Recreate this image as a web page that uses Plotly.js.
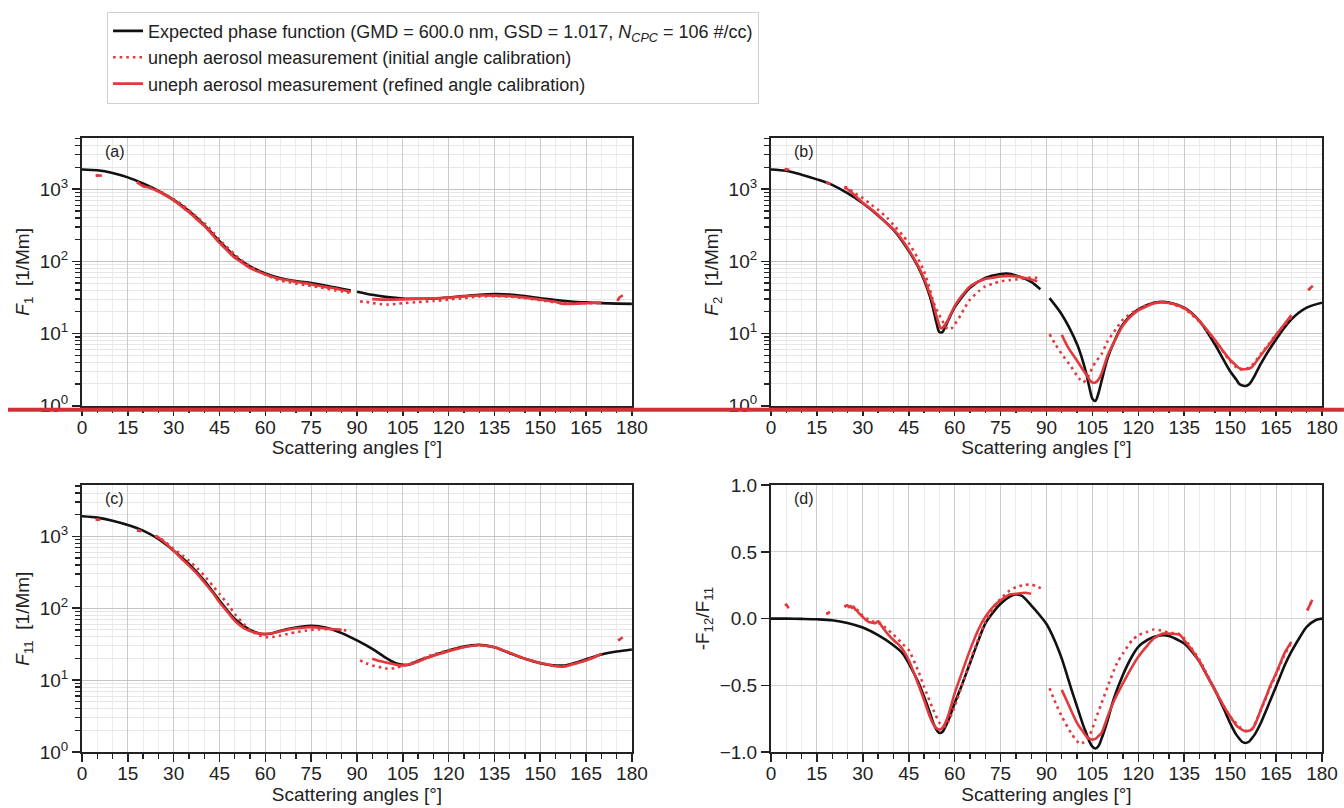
<!DOCTYPE html>
<html>
<head>
<meta charset="utf-8">
<script src="https://cdn.plot.ly/plotly-3.0.1.min.js"></script>
<style>html,body{margin:0;padding:0;background:#fff;}#chart{width:1344px;height:808px;}</style>
</head>
<body>
<div id="chart"></div>
<script>
// ---------------- DATA ----------------
// Panel (a): F1 [1/Mm]
const a_exp_x = [0,5,10,15,20,25,30,35,40,45,50,55,60,65,70,75,80,85,88,89,90,95,100,105,110,115,120,125,130,135,140,145,150,155,160,165,170,175,180];
const a_exp_y = [1880,1830,1680,1460,1200,950,711,500,321,190,118,85,68,58.5,53.5,50,46,41.7,39.5,null,38,34.4,32,30.6,30.3,30.6,31.6,33,34.4,35.2,34.8,33,30.9,29.2,27.8,27,26.4,26,25.8];
const a_ref_x = [4.5,5.5,6.5,12, 18,20,22,25,28,30,33,35,38,40,43,45,48,50,53,55,58,60,63,65,68,70,73,75,78,80,83,85,88,91, 95,100,105,110,115,120,125,130,135,140,145,150,155,157,160,165,170,173, 175.3,176,177];
const a_ref_y = [1540,1550,1545,null, 1250,1100,1050,930,790,700,560,480,370,310,225,180,135,112,92,81,71,66,60,57,54,52,50,48,45.5,44,42,40,38,null, 30,29.5,29.8,30.2,30.8,31.5,32.8,33.6,33.5,33,31.5,29.5,27.5,26,25.8,26.3,26.8,null, 28.5,32,33.5];
const a_ini_x = [4.5,5.5,6.5,12, 18,20,22,25,28,30,33,35,38,40,43,45,48,50,53,55,58,60,63,65,68,70,73,75,78,80,83,85,88,90, 91,93,95,98,100,103,105,110,115,120,125,130,135,140,145,150,155,160,165,170,173, 175.3,176,177];
const a_ini_y = [1550,1560,1550,null, 1260,1120,1060,960,820,730,600,515,400,340,250,200,150,124,98,86,73,66,58,54,51,49,47,45.5,43.5,42,39.5,38.3,36.5,null, 27.8,27.5,26.5,25.5,25.2,25.8,26.4,27.3,28.2,29.5,31,32.5,33,32.5,31,29,27,26,26.3,26.5,null, 28.5,32,33.5];

// Panel (b): F2 [1/Mm]
const b_exp_x = [0,5,10,15,20,25,30,35,40,45,48,50,52,53,54,55,56,57,58,60,62,65,70,75,77,80,85,88,89.5,91,95,100,102,103,104,105,106,107,108,110,112,115,120,125,128,130,135,140,145,148,150,152,153,154,155,156,157,158,160,165,170,175,180];
const b_exp_y = [1880,1800,1590,1370,1150,880,640,433,275,140,85,55,32,22,14.5,10.5,10.5,12.5,15.5,23,30.5,43,59,67,68,64,52,41,null,31,18.4,7.1,4,2.8,1.8,1.25,1.17,1.5,2.2,4.6,7.5,13.4,21.6,26.7,27.6,27,22.8,14.9,7.1,4.2,3,2.3,2.0,1.9,1.88,1.95,2.2,2.6,3.8,8.3,15.7,22.8,26.7];
const b_ref_x = [4.5,6,12, 18,19.5,22, 24,25,27,30,33,35,38,40,43,45,48,50,52,53,54,55,55.5,56,57,58,60,62,65,68,70,73,75,78,80,83,85,87,91, 95,97,100,102,103,104,105,106,107,108,110,112,115,118,120,125,128,130,133,135,138,140,143,145,148,150,152,153,155,157,158,160,163,165,168,170,173, 175.5,177];
const b_ref_y = [1900,1860,null, 1250,1180,null, 1060,1000,850,650,520,440,330,280,195,145,88,58,35,26,18,13,11.8,12,13.5,16,24,32,45,53,57,60,62,63,62,59,56,53,null, 9.6,6.5,4.2,3.1,2.7,2.3,2.1,2.1,2.3,2.8,5,7.5,13,18,21,26,27,26.5,24.5,22.5,18,15,10.5,8.2,5.5,4.3,3.6,3.3,3.2,3.4,3.8,5,7.3,9.5,14,18,null, 40,46];
const b_ini_x = [4.5,6,12, 18,19.5,22, 24,25,27,30,33,35,38,40,43,45,48,50,52,53,54,55,56,57,58,59,60,62,63,65,68,70,73,75,78,80,83,85,87,88,90, 91,93,95,98,100,101,102,103,104,105,106,108,110,113,115,118,120,125,128,130,135,140,145,148,150,153,155,157,160,163,165,168,170,173, 175.5,177];
const b_ini_y = [1900,1860,null, 1250,1180,null, 1080,1050,900,752,600,519,400,322,230,180,110,73,40,28,22,18,15,12.5,11.4,11.8,13.4,18,21.6,29.5,39,45,50,53,55,56,58,60,59,58,null, 9.8,7,5.2,3.5,2.6,2.3,2.1,2.3,2.7,3.4,4,5.2,7.9,12,15.7,19.5,22,26.5,27,26.5,22,14.5,8,5.4,4.1,3.2,3.2,3.6,5.2,7.5,9.7,13.5,17,null, 40,46];

// Panel (c): F11 [1/Mm]
const c_exp_x = [0,5,10,15,20,25,30,35,40,45,50,55,58,60,62,65,70,75,80,85,90,95,100,103,105,107,110,115,120,125,130,135,140,145,150,155,158,160,165,170,175,180];
const c_exp_y = [1900,1820,1650,1437,1199,918,632,413,242,128,71,50,44.5,43.5,44.5,48.5,54,57,53.5,45,35.6,27.2,19.8,17,16.3,16.4,18.5,22,25.8,29.3,31,28.7,23.7,19.8,17.2,16,16,16.7,19.5,22.7,25,26.7];
const c_ref_x = [4.5,6,12, 18,19.5,22, 24,25,27,30,33,35,38,40,43,45,48,50,53,55,58,60,63,65,68,70,73,75,78,80,83,85,90, 95,97,100,103,105,107,110,113,115,120,125,130,135,140,145,150,155,158,160,165,168,170,173, 175.5,177];
const c_ref_y = [1720,1700,null, 1220,1180,null, 1021,960,830,632,470,391,290,230,160,121,85,67,53,48,44.5,44,45.5,48,51,52.5,54,54.5,53.5,52,51,50,null, 19.8,18.6,17.4,16.3,16,16.5,18,20.5,21.8,25.3,28.7,30.6,28.7,24,19.8,17.4,15.6,15.5,16.3,18.8,21,23.3,null, 35.6,39.5];
const c_ini_x = [4.5,6,12, 18,19.5,22, 24,25,27,30,33,35,38,40,43,45,48,50,53,55,57,58,60,63,65,68,70,73,75,78,80,83,85,88,90, 91,93,95,98,100,103,105,107,110,115,120,125,130,135,140,145,150,155,158,160,165,170,173, 175.5,177];
const c_ini_y = [1720,1700,null, 1220,1180,null, 1000,970,850,667,540,459,350,284,200,158,110,83,60,49,44,41.7,39.5,40,41.7,44.5,46.4,48.5,50,51,51,50.5,50,48,null, 18.8,17.2,16,15,14.4,14.8,16,16.8,18.8,22.7,26,29,30.5,28.5,23.8,19.8,17.2,15.8,15.6,16.3,19,23,null, 35.6,39.5];

// Panel (d): -F12/F11
const d_exp_x = [0,5,10,15,20,25,30,35,40,43,45,48,50,52,53,54,55,56,57,58,60,62,65,68,70,73,75,78,80,82,85,88,90,93,95,98,100,102,103,104,105,106,107,108,110,112,115,118,120,123,125,128,130,133,135,138,140,143,145,148,150,152,153,154,155,156,157,158,160,163,165,168,170,173,175,178,180];
const d_exp_y = [0,0,-0.002,-0.005,-0.012,-0.032,-0.067,-0.124,-0.199,-0.26,-0.335,-0.47,-0.584,-0.71,-0.78,-0.83,-0.857,-0.85,-0.81,-0.76,-0.634,-0.52,-0.335,-0.15,-0.037,0.06,0.112,0.165,0.181,0.17,0.1,0.02,-0.04,-0.18,-0.3,-0.52,-0.66,-0.8,-0.86,-0.92,-0.96,-0.974,-0.955,-0.9,-0.76,-0.6,-0.42,-0.28,-0.211,-0.16,-0.137,-0.124,-0.13,-0.16,-0.186,-0.26,-0.323,-0.45,-0.534,-0.68,-0.783,-0.87,-0.9,-0.925,-0.932,-0.925,-0.9,-0.87,-0.783,-0.62,-0.509,-0.34,-0.248,-0.13,-0.062,-0.01,0];
const d_ref_x = [4.7,5.3,5.8,12, 18.1,18.7,19.3,22, 24,24.5,25,25.5,26,26.5,27,27.5,28,29,30,31,32,33,34,35,35.5,36,38,40,42,43,45,48,50,52,53,54,55,56,57,58,60,62,65,68,70,73,75,78,80,83,85,90, 95,97,100,102,103,104,105,106,107,108,110,112,115,118,120,123,125,128,130,132,133,134,135,138,140,143,145,148,150,152,153,155,157,158,160,162,163,165,168,170,173, 175.2,176,176.8];
const d_ref_y = [0.11,0.095,0.078,null, 0.035,0.042,0.05,null, 0.087,0.095,0.1,0.085,0.095,0.08,0.09,0.07,0.06,0.035,0.012,-0.01,-0.025,-0.03,-0.035,-0.02,-0.03,-0.05,-0.11,-0.16,-0.2,-0.23,-0.31,-0.485,-0.609,-0.74,-0.79,-0.82,-0.832,-0.82,-0.78,-0.72,-0.56,-0.43,-0.236,-0.07,0.012,0.1,0.137,0.181,0.186,0.194,0.186,null, -0.534,-0.634,-0.783,-0.85,-0.882,-0.9,-0.907,-0.902,-0.88,-0.857,-0.733,-0.62,-0.484,-0.36,-0.286,-0.2,-0.149,-0.112,-0.112,-0.115,-0.117,-0.13,-0.161,-0.25,-0.323,-0.45,-0.534,-0.66,-0.733,-0.8,-0.82,-0.845,-0.832,-0.8,-0.683,-0.57,-0.509,-0.41,-0.248,-0.174,null, 0.062,0.1,0.142];
const d_ini_x = [4.7,5.8,12, 18.1,19.3,22, 24,25,26,28,30,33,35,37,40,43,45,48,50,53,55,56,57,58,60,63,65,68,70,73,75,78,80,83,85,87,89,90, 91,93,95,98,100,101,102,103,104,106,108,110,113,115,118,120,123,125,128,130,133,135,140,145,150,153,155,157,160,163,165,168,170,173, 175.2,176.8];
const d_ini_y = [0.11,0.08,null, 0.035,0.05,null, 0.09,0.1,0.09,0.07,0.02,-0.02,-0.03,-0.06,-0.12,-0.19,-0.236,-0.385,-0.509,-0.683,-0.78,-0.807,-0.807,-0.77,-0.658,-0.46,-0.323,-0.137,-0.025,0.087,0.149,0.211,0.236,0.253,0.256,0.241,0.216,null, -0.522,-0.634,-0.733,-0.857,-0.919,-0.94,-0.93,-0.91,-0.882,-0.758,-0.634,-0.509,-0.335,-0.261,-0.161,-0.124,-0.099,-0.082,-0.092,-0.107,-0.112,-0.149,-0.31,-0.534,-0.733,-0.81,-0.84,-0.83,-0.69,-0.52,-0.42,-0.26,-0.18,null, 0.062,0.142];

const legendNames = [
  'Expected phase function (GMD = 600.0 nm, GSD = 1.017, <i>N</i><sub><i>CPC</i></sub> = 106 #/cc)',
  'uneph aerosol measurement (initial angle calibration)',
  'uneph aerosol measurement (refined angle calibration)'
];
const panelLabels = ['(a)', '(b)', '(c)', '(d)'];
const yTitles = ['<i>F</i><sub>1</sub>  [1/Mm]', '<i>F</i><sub>2</sub>  [1/Mm]', '<i>F</i><sub>11</sub>  [1/Mm]', '-F<sub>12</sub>/F<sub>11</sub>'];
const xTitle = 'Scattering angles [°]';
const logTickVals = [1, 10, 100, 1000];
const logTickText = ['10<sup>0</sup>', '10<sup>1</sup>', '10<sup>2</sup>', '10<sup>3</sup>'];
const linTickVals = [-1, -0.5, 0, 0.5, 1];

// ---------------- STYLE ----------------
const BLACK = '#111111';
const RED = '#e2393d';
const FONT = 'Liberation Sans, Arial, Helvetica, sans-serif';
const AX = '#222222';
const TICK_SIZE = 19;
const TITLE_SIZE = 19;

const panels = [
  {xa: 'x', ya: 'y', exp: [a_exp_x, a_exp_y], ini: [a_ini_x, a_ini_y], ref: [a_ref_x, a_ref_y]},
  {xa: 'x2', ya: 'y2', exp: [b_exp_x, b_exp_y], ini: [b_ini_x, b_ini_y], ref: [b_ref_x, b_ref_y]},
  {xa: 'x3', ya: 'y3', exp: [c_exp_x, c_exp_y], ini: [c_ini_x, c_ini_y], ref: [c_ref_x, c_ref_y]},
  {xa: 'x4', ya: 'y4', exp: [d_exp_x, d_exp_y], ini: [d_ini_x, d_ini_y], ref: [d_ref_x, d_ref_y]}
];

const traces = [];
panels.forEach((p, i) => {
  traces.push({x: p.exp[0], y: p.exp[1], xaxis: p.xa, yaxis: p.ya, type: 'scatter', mode: 'lines',
    line: {color: BLACK, width: 2.6, shape: 'spline', smoothing: 0.8}, name: legendNames[0], showlegend: i === 0, legendrank: 1});
  traces.push({x: p.ini[0], y: p.ini[1], xaxis: p.xa, yaxis: p.ya, type: 'scatter', mode: 'lines',
    line: {color: RED, width: 2.6, dash: '2.6px,4px', shape: 'spline', smoothing: 0.6}, name: legendNames[1], showlegend: i === 0, legendrank: 2});
  traces.push({x: p.ref[0], y: p.ref[1], xaxis: p.xa, yaxis: p.ya, type: 'scatter', mode: 'lines',
    line: {color: RED, width: 2.6, shape: 'spline', smoothing: 0.6}, name: legendNames[2], showlegend: i === 0, legendrank: 3});
});

function xAxis(domain, anchor) {
  return {domain: domain, anchor: anchor, range: [0, 180], tick0: 0, dtick: 15, ticks: 'outside', ticklen: 8, tickwidth: 1.6, tickcolor: AX,
    ticklabelstandoff: -5,
    showline: true, linewidth: 2, linecolor: AX, mirror: true, zeroline: false,
    showgrid: true, gridcolor: '#cbcbcb', gridwidth: 1,
    minor: {tick0: 0, dtick: 5, ticks: 'outside', ticklen: 5, tickwidth: 1.3, tickcolor: AX, showgrid: true, gridcolor: '#ececec', gridwidth: 1},
    tickfont: {family: FONT, size: TICK_SIZE, color: AX},
    title: {text: xTitle, font: {family: FONT, size: TITLE_SIZE, color: AX}, standoff: 3}};
}
const minorLog = [];
[1, 10, 100, 1000].forEach(d => { for (let k = 2; k <= 9; k++) if (d * k <= 5200) minorLog.push(d * k); });
function yLog(domain, anchor, title) {
  return {domain: domain, anchor: anchor, type: 'log', range: [0, 3.71], tickmode: 'array', tickvals: logTickVals, ticktext: logTickText,
    ticks: 'outside', ticklen: 8, tickwidth: 1.6, tickcolor: AX,
    showline: true, linewidth: 2, linecolor: AX, mirror: true, zeroline: false,
    showgrid: true, gridcolor: '#c4c4c4', gridwidth: 1,
    minor: {tickmode: 'array', tickvals: minorLog, ticks: 'outside', ticklen: 5, tickwidth: 1.3, tickcolor: AX, showgrid: true, gridcolor: '#e6e6e6', gridwidth: 1},
    tickfont: {family: FONT, size: TICK_SIZE, color: AX},
    title: {text: title, font: {family: FONT, size: TITLE_SIZE, color: AX}, standoff: 5}};
}

const layout = {
  width: 1344, height: 808,
  margin: {l: 82, r: 22, t: 135, b: 56, pad: 0},
  paper_bgcolor: '#ffffff', plot_bgcolor: '#ffffff',
  font: {family: FONT, color: AX},
  showlegend: true,
  legend: {x: 0.0202, y: 1.2058, xanchor: 'left', yanchor: 'top', bgcolor: '#ffffff', bordercolor: '#d0d0d0', borderwidth: 1,
    font: {family: FONT, size: 18, color: '#222'}, tracegroupgap: 0, itemwidth: 30},
  xaxis: xAxis([0, 0.4435], 'y'),
  yaxis: yLog([0.564, 1], 'x', yTitles[0]),
  xaxis2: xAxis([0.5556, 1], 'y2'),
  yaxis2: yLog([0.564, 1], 'x2', yTitles[1]),
  xaxis3: xAxis([0, 0.4435], 'y3'),
  yaxis3: yLog([0, 0.4344], 'x3', yTitles[2]),
  xaxis4: xAxis([0.5556, 1], 'y4'),
  yaxis4: {domain: [0, 0.4344], anchor: 'x4', range: [-1, 1], tickmode: 'array', tickvals: linTickVals, tickformat: '.1f',
    ticks: 'outside', ticklen: 8, tickwidth: 1.6, tickcolor: AX,
    showline: true, linewidth: 2, linecolor: AX, mirror: true, zeroline: false,
    showgrid: true, gridcolor: '#d4d4d4', gridwidth: 1,
    tickfont: {family: FONT, size: TICK_SIZE, color: AX},
    title: {text: yTitles[3], font: {family: FONT, size: TITLE_SIZE, color: AX}, standoff: 5}},
  annotations: panelLabels.map((t, i) => ({
    text: t, showarrow: false, xref: ['x', 'x2', 'x3', 'x4'][i] + ' domain', yref: ['y', 'y2', 'y3', 'y4'][i] + ' domain',
    x: 0.06, y: 0.95, xanchor: 'center', yanchor: 'middle', font: {family: FONT, size: 16, color: AX}
  })),
  shapes: [{type: 'line', xref: 'paper', yref: 'paper', x0: -0.0597, x1: 1.0177, y0: 0.5575, y1: 0.5575,
    line: {color: '#d42f38', width: 4}, layer: 'above'}]
};

Plotly.newPlot('chart', traces, layout, {staticPlot: true, displayModeBar: false});
</script>
</body>
</html>
